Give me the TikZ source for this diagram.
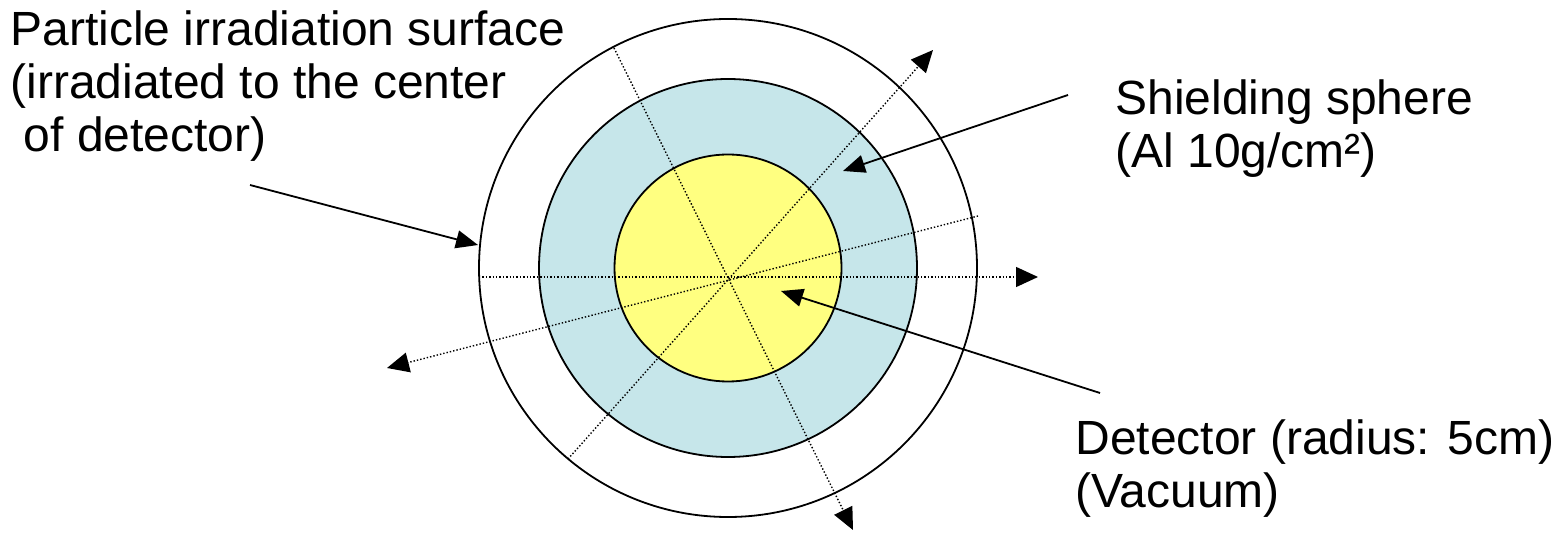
\documentclass[tikz,border=0pt]{standalone}
\usepackage{fontspec}
\setmainfont{Liberation Sans}
\usetikzlibrary{arrows.meta}
\definecolor{shieldblue}{RGB}{198,230,234}
\definecolor{detyellow}{RGB}{255,255,128}
\tikzset{
  ring/.style={line width=0.9pt},
  ray/.style={line width=0.7pt,dash pattern=on 0.7pt off 1pt},
  raytip/.style={ray,-{Triangle[length=11pt,width=10pt]}},
  pointer/.style={line width=0.9pt,-{Triangle[length=11pt,width=9pt]}},
  notetext/.style={align=left,anchor=base west,inner sep=0pt,
    font=\fontsize{24}{26.5}\selectfont}
}

\begin{document}
\begin{tikzpicture}[x=0.5pt,y=-0.5pt]
\useasboundingbox (0,0) rectangle (1552,533);
% spheres
\draw[ring] (728,268) circle[radius=249];
\draw[ring,fill=shieldblue] (728,268) circle[radius=189];
\draw[ring,fill=detyellow] (728,268) circle[radius=113.5];
% rays through the center
\coordinate (h1) at (479,277);
\coordinate (h2) at (1038,277);
\coordinate (a1) at (614,48);
\coordinate (a2) at (853,530);
\coordinate (b1) at (568,459);
\coordinate (b2) at (933,50);
\coordinate (d1) at (978,216);
\coordinate (d2) at (387,368);
\draw[raytip] (h1) -- (h2);
\draw[raytip] (a1) -- (a2);
\draw[raytip] (b1) -- (b2);
\draw[raytip] (d1) -- (d2);
% labels (anchored at the baseline of the last line)
\node[notetext] (surf) at (10,152) {Particle irradiation surface\\(irradiated to the center\\\hspace*{0.278em}of detector)};
\node[notetext] (shield) at (1115,168) {Shielding sphere\\(Al 10g/cm²)};
\node[notetext] (det) at (1075,508) {Detector (radius: 5cm)\\(Vacuum)};
% pointers
\coordinate (surfend) at (250,185);
\coordinate (surftip) at (478,245);
\coordinate (shieldend) at (1068,95);
\coordinate (shieldtip) at (843,171);
\coordinate (detend) at (1100,393);
\coordinate (dettip) at (781,291);
\draw[pointer] (surfend) -- (surftip);
\draw[pointer] (shieldend) -- (shieldtip);
\draw[pointer] (detend) -- (dettip);
\end{tikzpicture}
\end{document}
